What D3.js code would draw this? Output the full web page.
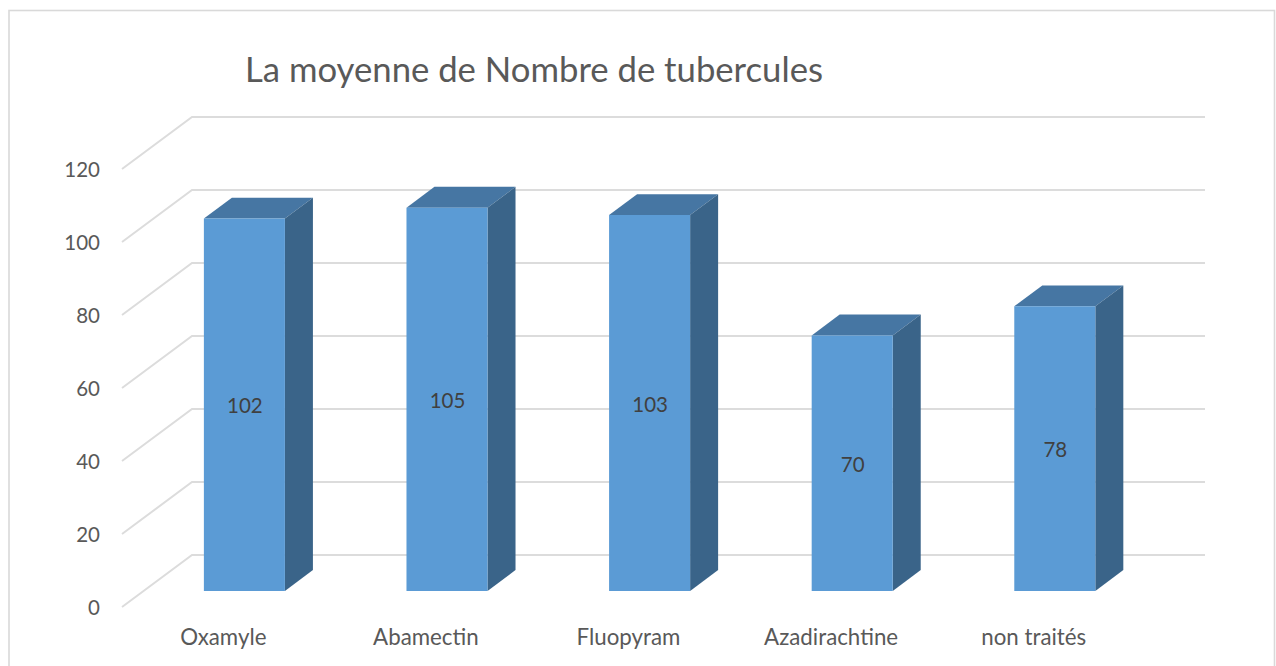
<!DOCTYPE html>
<html>
<head>
<meta charset="utf-8">
<script src="https://cdnjs.cloudflare.com/ajax/libs/d3/7.8.5/d3.min.js"></script>
<style>
html,body{margin:0;padding:0;background:#fff;overflow:hidden}
svg{display:block}
text{font-family:Lato,"Open Sans",sans-serif;fill:#595959}
</style>
</head>
<body>
<svg id="c" width="1276" height="666"></svg>
<script>
const titleText = "La moyenne de Nombre de tubercules";
const categories = ["Oxamyle","Abamectin","Fluopyram","Azadirachtine","non traités"];
const values = [102,105,103,70,78];
const yTicks = [0,20,40,60,80,100,120];

const svg = d3.select("#c");
const originX = 122, originY = 607, depthX = 70, depthY = 52;
const plotW = 1013, plotH = 438;
const barZ0 = 0.31, barZ1 = 0.71;

const x = d3.scaleBand().domain(categories).range([originX - 0.6, originX - 0.6 + plotW]).paddingInner(0.6).paddingOuter(0.3);
const xAxisScale = d3.scaleBand().domain(categories).range([originX, originX + plotW]);
const y = d3.scaleLinear().domain([0,120]).range([originY, originY - plotH]);

const px = (xv, z) => xv + depthX * z;
const py = (v, z) => y(v) - depthY * z;
const poly = pts => pts.map(p => p.join(",")).join(" ");

// frame
svg.append("rect").attr("x",9).attr("y",10.5).attr("width",1265.5).attr("height",670)
  .attr("fill","#fff").attr("stroke","#d9d9d9").attr("stroke-width",1.6);

// title
svg.append("text").attr("x",245).attr("y",82).attr("font-size",34.7).text(titleText);

// gridlines (floor edge + back wall)
const grid = svg.append("g").attr("fill","none").attr("stroke","#dcdcdc").attr("stroke-width",2);
yTicks.forEach(t => {
  grid.append("polyline").attr("points", poly([
    [px(originX,0), py(t,0)],
    [px(originX,1), py(t,1)],
    [px(originX+plotW,1), py(t,1)]
  ]));
});

// axes
const yAxis = svg.append("g").attr("transform",`translate(${originX-22},0.5)`)
  .call(d3.axisLeft(y).tickValues(yTicks).tickSize(0).tickPadding(0));
yAxis.select(".domain").remove();
yAxis.selectAll("text").attr("font-size",20.5).attr("dy","0.35em").style("font-family","Lato").style("fill","#595959");

const xAxis = svg.append("g").attr("transform",`translate(0,${originY+30})`)
  .call(d3.axisBottom(xAxisScale).tickSize(0).tickPadding(0));
xAxis.select(".domain").remove();
xAxis.selectAll("text").attr("font-size",22.3).attr("dy","0.35em").style("font-family","Lato").style("fill","#595959");

// bars
const bars = svg.append("g").selectAll("g").data(categories.map((c,i)=>({c,v:values[i]}))).join("g");
bars.each(function(d){
  const g = d3.select(this);
  const a = x(d.c), b = a + x.bandwidth();
  // top
  g.append("polygon").attr("fill","#4676a3").attr("points",poly([
    [px(a,barZ0),py(d.v,barZ0)],[px(b,barZ0),py(d.v,barZ0)],[px(b,barZ1),py(d.v,barZ1)],[px(a,barZ1),py(d.v,barZ1)]
  ]));
  // side
  g.append("polygon").attr("fill","#3a6489").attr("points",poly([
    [px(b,barZ0),py(d.v,barZ0)],[px(b,barZ1),py(d.v,barZ1)],[px(b,barZ1),py(0,barZ1)],[px(b,barZ0),py(0,barZ0)]
  ]));
  // front
  g.append("polygon").attr("fill","#5b9bd5").attr("points",poly([
    [px(a,barZ0),py(d.v,barZ0)],[px(b,barZ0),py(d.v,barZ0)],[px(b,barZ0),py(0,barZ0)],[px(a,barZ0),py(0,barZ0)]
  ]));
  // value label
  g.append("text").attr("x",px((a+b)/2,barZ0) + 0.5).attr("y",(py(d.v,barZ0)+py(0,barZ0))/2 + 1.5)
    .attr("text-anchor","middle").attr("dy","0.35em").attr("font-size",20.5)
    .style("fill","#404040").text(d.v);
});
</script>
</body>
</html>
